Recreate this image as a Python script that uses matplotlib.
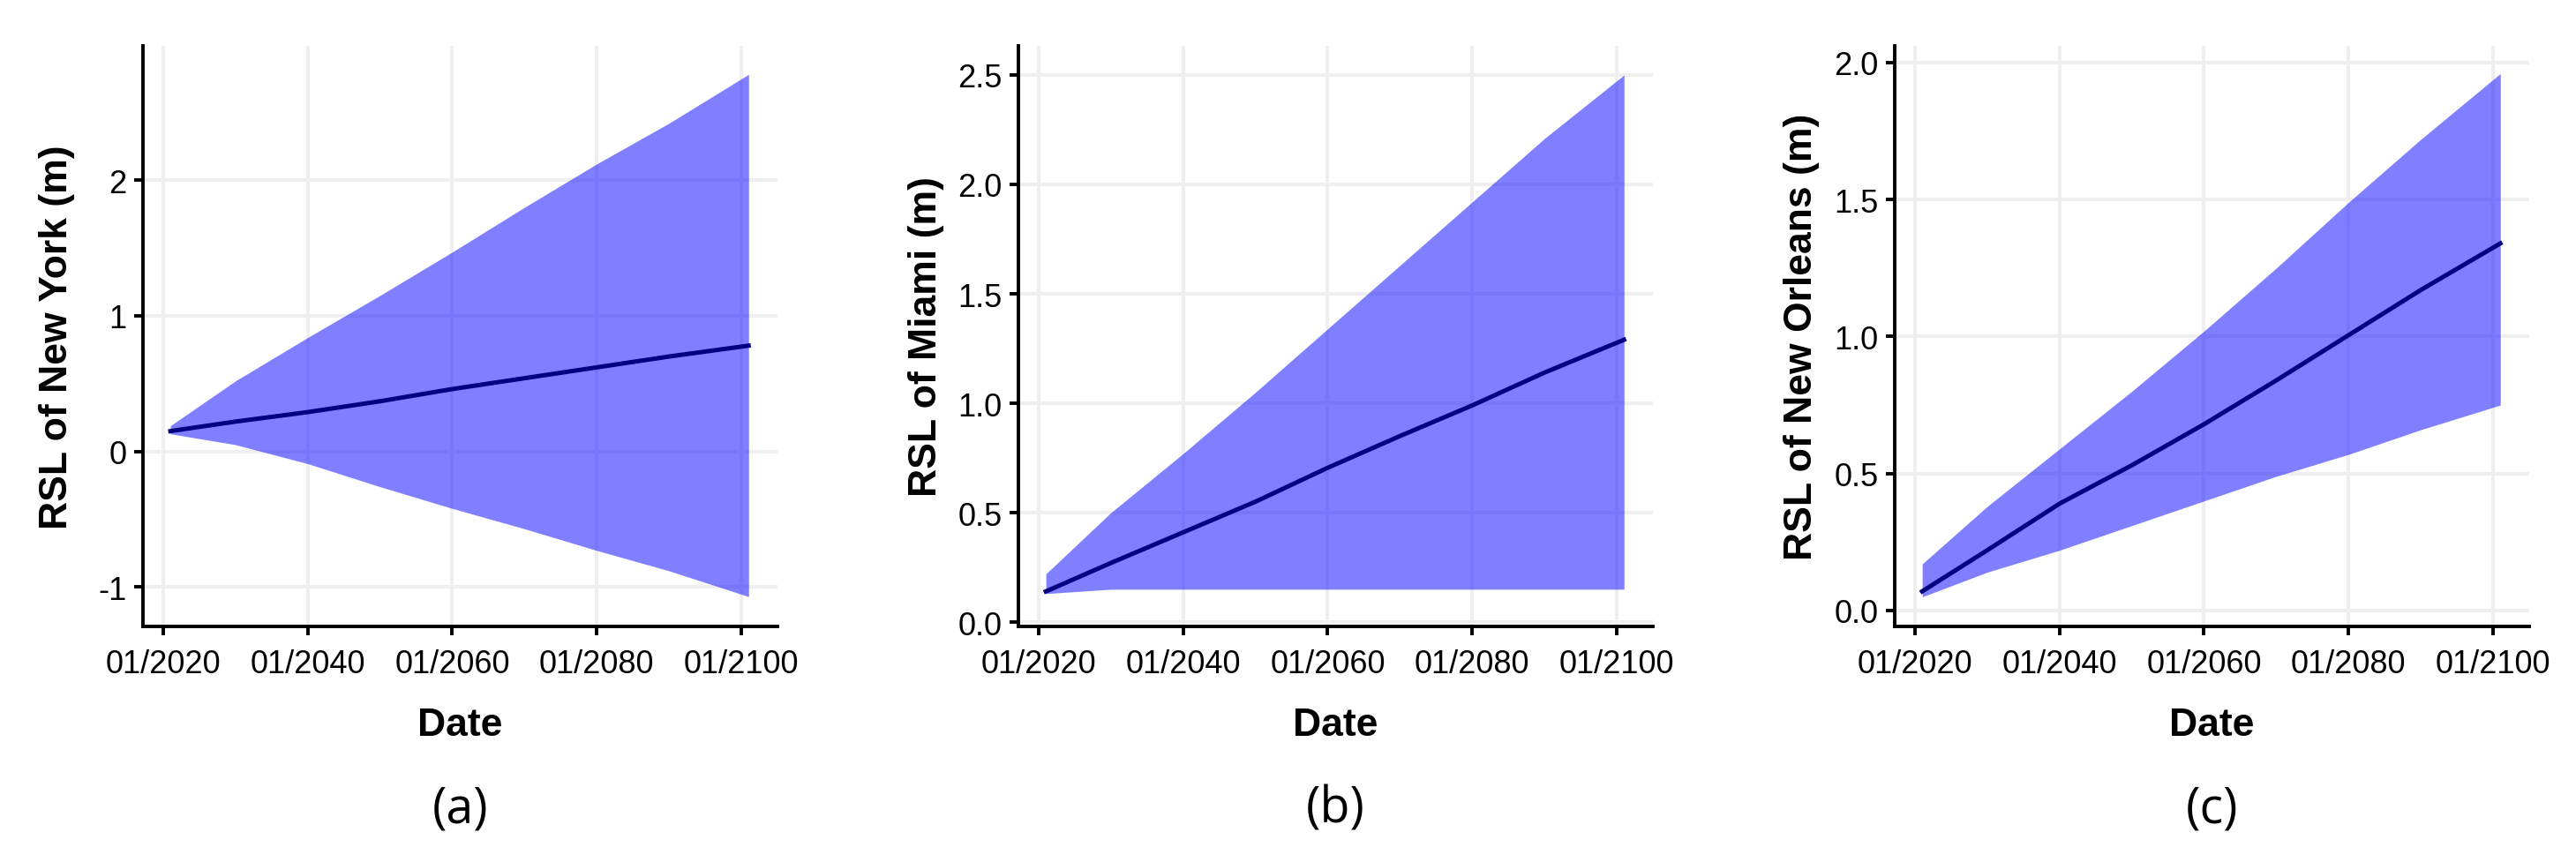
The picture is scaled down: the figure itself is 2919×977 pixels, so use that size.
import matplotlib
matplotlib.use("Agg")
import matplotlib.pyplot as plt
import numpy as np

plt.rcParams['font.family'] = ['Liberation Sans', 'DejaVu Sans']

years = [2021, 2030, 2040, 2050, 2060, 2070, 2080, 2090, 2101]

# New York
ny_mean = [0.15, 0.22, 0.29, 0.37, 0.46, 0.54, 0.62, 0.70, 0.78]
ny_low = [0.13, 0.05, -0.09, -0.26, -0.42, -0.57, -0.73, -0.88, -1.07]
ny_high = [0.19, 0.52, 0.84, 1.15, 1.47, 1.80, 2.12, 2.42, 2.78]

# Miami
mi_mean = [0.14, 0.27, 0.41, 0.55, 0.705, 0.85, 0.99, 1.14, 1.29]
mi_low = [0.13, 0.15, 0.15, 0.15, 0.15, 0.15, 0.15, 0.15, 0.15]
mi_high = [0.22, 0.50, 0.77, 1.05, 1.34, 1.63, 1.92, 2.21, 2.50]

# New Orleans
no_mean = [0.07, 0.22, 0.39, 0.53, 0.68, 0.84, 1.005, 1.17, 1.34]
no_low = [0.05, 0.14, 0.22, 0.31, 0.40, 0.49, 0.57, 0.66, 0.75]
no_high = [0.17, 0.38, 0.59, 0.80, 1.02, 1.25, 1.49, 1.72, 1.96]

x_ticks = [2020, 2040, 2060, 2080, 2100]
x_labels = ['01/2020', '01/2040', '01/2060', '01/2080', '01/2100']

panels = [
    ('RSL of New York (m)', ny_mean, ny_low, ny_high, [-1, 0, 1, 2], ['-1', '0', '1', '2'], (-1.29, 2.99), '(a)', 162, -0.135),
    ('RSL of Miami (m)', mi_mean, mi_low, mi_high, [0, 0.5, 1, 1.5, 2, 2.5], ['0.0', '0.5', '1.0', '1.5', '2.0', '2.5'], (-0.02, 2.633), '(b)', 1154, -0.145),
    ('RSL of New Orleans (m)', no_mean, no_low, no_high, [0, 0.5, 1, 1.5, 2], ['0.0', '0.5', '1.0', '1.5', '2.0'], (-0.058, 2.061), '(c)', 2147, -0.147),
]

W, H = 2919, 978
fig = plt.figure(figsize=(W / 100, H / 100), dpi=100)

for ylab, mean, low, high, yt, ytl, ylim, letter, left_px, ylab_x in panels:
    ax = fig.add_axes([left_px / W, (H - 711) / H, 719 / W, 658 / H])
    ax.fill_between(years, low, high, color='blue', alpha=0.5, linewidth=0)
    ax.plot(years, mean, color='#000080', lw=3.6)

    ax.set_xlim(2017.2, 2105.0)
    ax.set_ylim(*ylim)
    ax.set_xticks(x_ticks)
    ax.set_xticklabels(x_labels)
    ax.set_yticks(yt)
    ax.set_yticklabels(ytl)

    ax.grid(True, color='#efefef', lw=2.9)
    ax.set_axisbelow(True)
    for s in ['top', 'right']:
        ax.spines[s].set_visible(False)
    for s in ['left', 'bottom']:
        ax.spines[s].set_linewidth(2.8)
        ax.spines[s].set_color('black')
    ax.tick_params(length=7.2, width=2.8, color='black', labelsize=26, labelcolor='black')
    ax.tick_params(axis='x', pad=11)
    ax.tick_params(axis='y', pad=6)

    ax.set_xlabel('Date', fontsize=32, fontweight='bold', va='center')
    ax.xaxis.set_label_coords(0.5, -0.170)
    ax.set_ylabel(ylab, fontsize=32, fontweight='bold', va='center')
    ax.yaxis.set_label_coords(ylab_x, 0.5)

    ax.text(0.5, -0.3146, letter, transform=ax.transAxes, ha='center', va='center',
            fontsize=40, family=['Open Sans', 'DejaVu Sans'])

fig.savefig('out.png', dpi=100)
